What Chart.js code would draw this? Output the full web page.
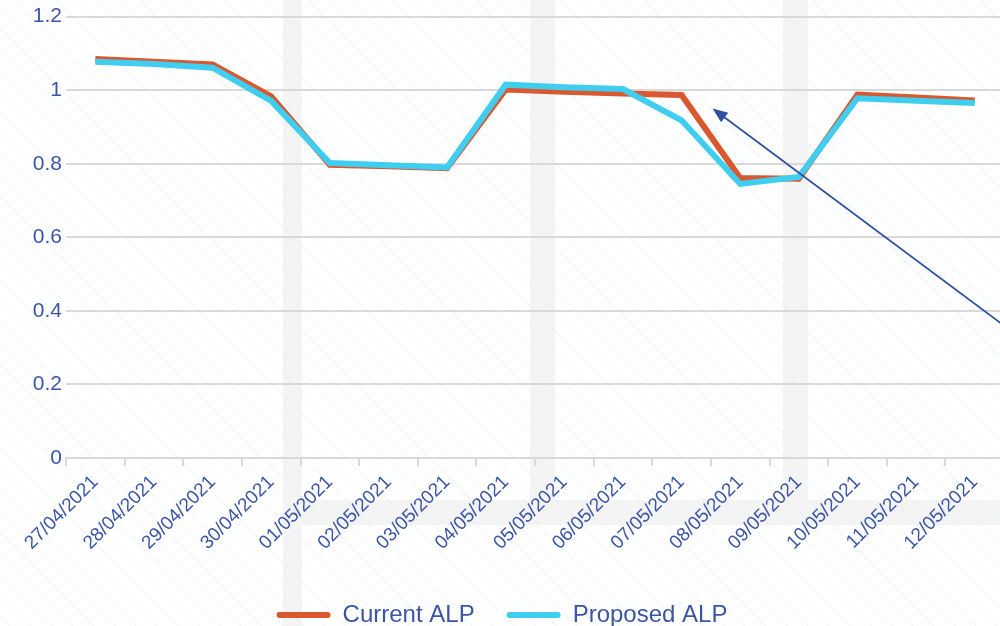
<!DOCTYPE html>
<html>
<head>
<meta charset="utf-8">
<script src="https://cdn.jsdelivr.net/npm/chart.js@4.4.0/dist/chart.umd.min.js"></script>
<style>
  html, body { margin: 0; padding: 0; background: #fff; overflow: hidden; }
  #wrap { width: 1004px; height: 637px; position: relative; }
</style>
</head>
<body>
<div id="wrap"><canvas id="grafico"></canvas></div>
<script>
const fechas = ['27/04/2021', '28/04/2021', '29/04/2021', '30/04/2021', '01/05/2021', '02/05/2021',
    '03/05/2021', '04/05/2021', '05/05/2021', '06/05/2021', '07/05/2021', '08/05/2021',
    '09/05/2021', '10/05/2021', '11/05/2021', '12/05/2021'];
const currentALP = [1.085, 1.077, 1.070, 0.983, 0.797, 0.793, 0.788, 1.002, 0.996, 0.991, 0.987, 0.761, 0.759, 0.988, 0.980, 0.972];
const proposedALP = [1.077, 1.071, 1.061, 0.971, 0.802, 0.796, 0.790, 1.015, 1.008, 1.003, 0.918, 0.745, 0.764, 0.978, 0.971, 0.965];
const yTicks = [0, 0.2, 0.4, 0.6, 0.8, 1, 1.2];

const azul = '#3b55a6';
const fuente = "'Liberation Sans', Arial, sans-serif";

// fondo rayado y bandas grises de la captura original
const fondo = {
    id: 'fondo',
    beforeDraw(c) {
        const ctx = c.ctx, w = c.width, h = c.height;
        ctx.save();
        ctx.fillStyle = '#fff';
        ctx.fillRect(0, 0, w, h);
        ctx.fillStyle = 'rgba(235,235,235,0.55)';
        ctx.fillRect(283, 0, 19, h);
        ctx.fillRect(530, 0, 25, 500);
        ctx.fillRect(783, 0, 25, 500);
        ctx.fillRect(302, 500, w - 302, 25);
        ctx.strokeStyle = 'rgba(205,238,245,0.5)';
        ctx.lineWidth = 1;
        for (let x = -h; x < w; x += 21) {
            ctx.beginPath();
            ctx.moveTo(x, 0);
            ctx.lineTo(x + h, h);
            ctx.stroke();
        }
        ctx.restore();
    }
};

const flecha = {
    id: 'flecha',
    afterDraw(c) {
        const ctx = c.ctx;
        const xs = c.scales.x, ys = c.scales.y;
        const tx = xs.getPixelForValue(10.53), ty = ys.getPixelForValue(0.95);
        const sx = 1004, sy = ys.getPixelForValue(0.36);
        const ang = Math.atan2(ty - sy, tx - sx);
        ctx.save();
        ctx.strokeStyle = '#3050a0';
        ctx.fillStyle = '#3050a0';
        ctx.lineWidth = 1.8;
        ctx.beginPath();
        ctx.moveTo(sx, sy);
        ctx.lineTo(tx - 10 * Math.cos(ang), ty - 10 * Math.sin(ang));
        ctx.stroke();
        ctx.beginPath();
        ctx.moveTo(tx, ty);
        ctx.lineTo(tx - 15 * Math.cos(ang) + 6 * Math.sin(ang), ty - 15 * Math.sin(ang) - 6 * Math.cos(ang));
        ctx.lineTo(tx - 15 * Math.cos(ang) - 6 * Math.sin(ang), ty - 15 * Math.sin(ang) + 6 * Math.cos(ang));
        ctx.closePath();
        ctx.fill();
        ctx.restore();
    }
};

const ctx = document.getElementById('grafico').getContext('2d');
new Chart(ctx, {
    type: 'line',
    data: {
        labels: fechas,
        datasets: [
            {
                label: 'Current ALP',
                data: currentALP,
                borderColor: '#d9582f',
                backgroundColor: '#d9582f',
                borderWidth: 6,
                pointRadius: 0,
                tension: 0,
                order: 2
            },
            {
                label: 'Proposed ALP',
                data: proposedALP,
                borderColor: '#3fcdf0',
                backgroundColor: '#3fcdf0',
                borderWidth: 6,
                pointRadius: 0,
                tension: 0,
                order: 1
            }
        ]
    },
    options: {
        responsive: true,
        maintainAspectRatio: false,
        animation: false,
        layout: { padding: { top: 6, right: 0, left: 0, bottom: 0 } },
        plugins: {
            tooltip: { enabled: false },
            legend: {
                position: 'bottom',
                labels: {
                    color: azul,
                    font: { family: fuente, size: 24 },
                    boxWidth: 54,
                    boxHeight: 6,
                    useBorderRadius: true,
                    borderRadius: 3,
                    padding: 32,
                    sort: (a, b) => a.datasetIndex - b.datasetIndex,
                    generateLabels: c => Chart.defaults.plugins.legend.labels.generateLabels(c)
                        .map(l => Object.assign(l, { lineWidth: 0 }))
                }
            }
        },
        scales: {
            x: {
                offset: true,
                afterFit: s => { s.height = 113; },
                grid: {
                    offset: true,
                    drawOnChartArea: false,
                    drawTicks: true,
                    tickLength: 8,
                    color: '#d9d9d9',
                    lineWidth: 2
                },
                border: { color: '#d9d9d9', width: 2 },
                ticks: {
                    color: azul,
                    font: { family: fuente, size: 19 },
                    maxRotation: 45,
                    minRotation: 45,
                    autoSkip: false,
                    padding: 5
                }
            },
            y: {
                min: 0,
                max: 1.2,
                afterFit: s => { s.width = 66; },
                afterBuildTicks: s => { s.ticks = yTicks.map(v => ({ value: v })); },
                grid: { color: '#d9d9d9', lineWidth: 2, drawTicks: false },
                border: { display: false },
                ticks: {
                    color: azul,
                    font: { family: fuente, size: 21 },
                    padding: 4,
                    callback: v => String(v)
                }
            }
        }
    },
    plugins: [fondo, flecha]
});
</script>
</body>
</html>
